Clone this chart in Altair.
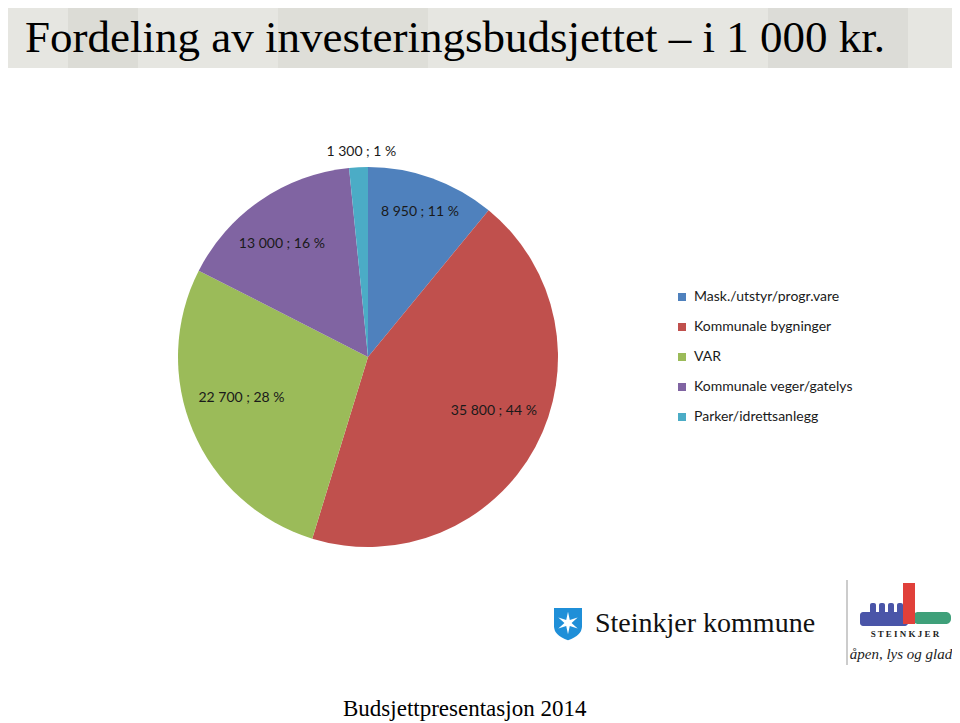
import altair as alt
import pandas as pd
import numpy as np

# ---- data ----
categories = ["Mask./utstyr/progr.vare", "Kommunale bygninger", "VAR",
              "Kommunale veger/gatelys", "Parker/idrettsanlegg"]
values = [8950, 35800, 22700, 13000, 1300]
percents = [11, 44, 28, 16, 1]
colors = ["#4F81BD", "#C0504D", "#9BBB59", "#8064A2", "#4BACC6"]
label_radius = [154, 137, 133, 142, 205]  # label placement (style)
label_shift = [0, -5, 5, -3, 1]           # small angular nudge in degrees (style)

title_text = "Fordeling av investeringsbudsjettet \u2013 i 1 000 kr."
footer_text = "Budsjettpresentasjon 2014"

def fmt(v):
    return f"{v:,}".replace(",", " ")

df = pd.DataFrame({
    "idx": list(range(len(categories))),
    "category": categories,
    "value": values,
    "label": [f"{fmt(v)} ; {p} %" for v, p in zip(values, percents)],
    "lr": label_radius,
    "ls": label_shift,
})

W, H = 944, 715
CX, CY, R = 360, 349, 190
OFF = 8  # page margin

one = pd.DataFrame({"a": [0]})

# ---- banner ----
banner = alt.Chart(one).mark_rect(color="#e6e6e1").encode(
    x=alt.value(0), x2=alt.value(W), y=alt.value(0), y2=alt.value(60))
banner_shapes = alt.Chart(one).mark_rect(color="#d9d9d3", opacity=0.8).encode(
    x=alt.value(60), x2=alt.value(130), y=alt.value(0), y2=alt.value(60))
banner_shapes2 = alt.Chart(one).mark_rect(color="#dcdcd6", opacity=0.8).encode(
    x=alt.value(270), x2=alt.value(420), y=alt.value(0), y2=alt.value(60))
banner_shapes3 = alt.Chart(one).mark_rect(color="#dadad4", opacity=0.8).encode(
    x=alt.value(760), x2=alt.value(900), y=alt.value(0), y2=alt.value(60))

title = alt.Chart(one).mark_text(
    text=title_text, font="Liberation Serif", fontSize=45, align="left",
    baseline="alphabetic", color="#000000").encode(
    x=alt.value(25 - OFF), y=alt.value(52 - OFF))

# ---- pie ----
arc = alt.Chart(df).mark_arc(radius=R).encode(
    theta=alt.Theta("value:Q", stack=True),
    order=alt.Order("idx:Q"),
    x=alt.value(CX), y=alt.value(CY),
    color=alt.Color(
        "category:N",
        scale=alt.Scale(domain=categories, range=colors),
        sort=categories,
        legend=alt.Legend(
            title=None, orient="none", legendX=675 - OFF, legendY=290 - OFF,
            symbolType="square", symbolSize=64, symbolStrokeWidth=0,
            labelFont="Lato", labelFontSize=14, labelColor="#1a1a1a",
            rowPadding=16, padding=0, labelOffset=5,
        ),
    ),
)

labels = alt.Chart(df).transform_window(
    cum="sum(value)", sort=[alt.SortField("idx")], frame=[None, 0]
).transform_joinaggregate(
    total="sum(value)"
).transform_calculate(
    ang="((datum.cum - datum.value / 2) / datum.total) * 2 * PI + datum.ls * PI / 180"
).transform_calculate(
    px=f"{CX} + datum.lr * sin(datum.ang)",
    py=f"{CY} - datum.lr * cos(datum.ang)",
).mark_text(font="Lato", fontSize=14, color="#1a1a1a").encode(
    x=alt.X("px:Q", scale=None),
    y=alt.Y("py:Q", scale=None),
    text="label:N",
)

# ---- logos ----
shield_path = "M-1,-1 L1,-1 L1,0.3 Q1,0.95 0,1.3 Q-1,0.95 -1,0.3 Z"
ang = np.linspace(0, 2 * np.pi, 13)[:-1] - np.pi / 2
rad = np.where(np.arange(12) % 2 == 0, 1.0, 0.32)
star_path = "M" + " L".join(f"{r*np.cos(a):.3f},{r*np.sin(a):.3f}" for r, a in zip(rad, ang)) + " Z"

shield = alt.Chart(one).mark_point(shape=shield_path, filled=True, color="#1f8fd8",
                                   size=784, opacity=1).encode(
    x=alt.value(568 - OFF), y=alt.value(622 - OFF))
star = alt.Chart(one).mark_point(shape=star_path, filled=True, color="#ffffff",
                                 size=500, opacity=1).encode(
    x=alt.value(568 - OFF), y=alt.value(623 - OFF))
kommune = alt.Chart(one).mark_text(
    text="Steinkjer kommune", font="Liberation Serif", fontSize=28, align="left",
    baseline="alphabetic", color="#111111").encode(
    x=alt.value(595 - OFF), y=alt.value(632 - OFF))
vline = alt.Chart(one).mark_rule(color="#999999", strokeWidth=1).encode(
    x=alt.value(847 - OFF), y=alt.value(580 - OFF), y2=alt.value(665 - OFF))
tower = alt.Chart(one).mark_rect(color="#e0403a").encode(
    x=alt.value(903 - OFF), x2=alt.value(915 - OFF),
    y=alt.value(583 - OFF), y2=alt.value(624 - OFF))
water = alt.Chart(one).mark_rect(color="#4a55a8", cornerRadius=3).encode(
    x=alt.value(860 - OFF), x2=alt.value(908 - OFF),
    y=alt.value(612 - OFF), y2=alt.value(626 - OFF))
towers = [
    alt.Chart(one).mark_rect(color="#4a55a8", cornerRadius=2).encode(
        x=alt.value(x0 - OFF), x2=alt.value(x0 + 6 - OFF),
        y=alt.value(603 - OFF), y2=alt.value(614 - OFF))
    for x0 in (870, 879, 888, 897)
]
hill = alt.Chart(one).mark_rect(color="#3fa07a", cornerRadius=5).encode(
    x=alt.value(913 - OFF), x2=alt.value(951 - OFF),
    y=alt.value(612 - OFF), y2=alt.value(624 - OFF))
steinkjer = alt.Chart(one).mark_text(
    text="S T E I N K J E R", font="Liberation Serif", fontSize=9, fontWeight="bold",
    align="center", baseline="middle", color="#222222").encode(
    x=alt.value(905 - OFF), y=alt.value(634 - OFF))
motto = alt.Chart(one).mark_text(
    text="\u00e5pen, lys og glad", font="Liberation Serif", fontSize=15, fontStyle="italic",
    align="center", baseline="alphabetic", color="#222222").encode(
    x=alt.value(901 - OFF), y=alt.value(659 - OFF))

footer = alt.Chart(one).mark_text(
    text=footer_text, font="Liberation Serif", fontSize=23, align="left",
    baseline="alphabetic", color="#000000").encode(
    x=alt.value(343 - OFF), y=alt.value(716 - OFF))

chart = alt.layer(
    banner, banner_shapes, banner_shapes2, banner_shapes3, title,
    arc, labels,
    shield, star, kommune, vline, water, *towers, hill, tower, steinkjer, motto, footer,
).properties(
    width=W, height=H, autosize=alt.AutoSizeParams(type="none"), padding=0,
).configure_view(strokeWidth=0)

chart.save("out.html", embed_options={"renderer": "svg", "actions": False})
